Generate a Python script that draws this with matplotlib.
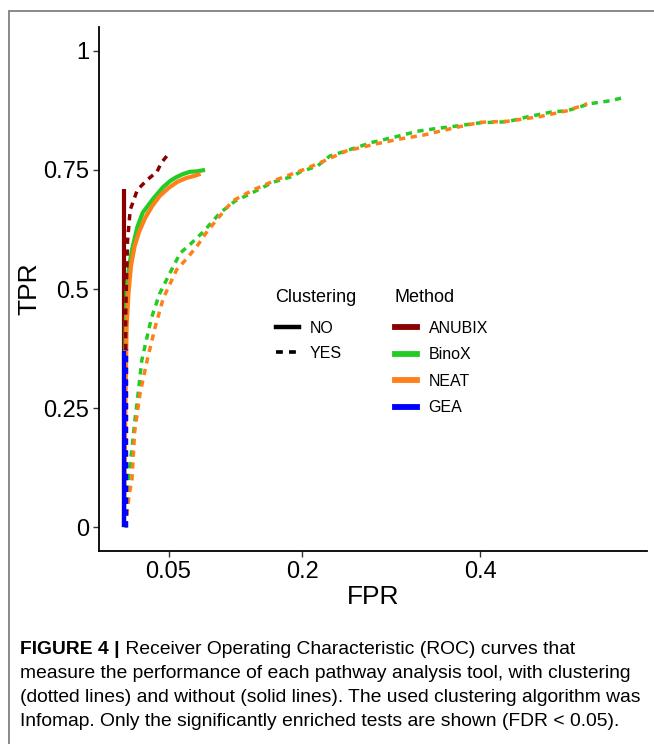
import matplotlib
matplotlib.use("Agg")
import matplotlib.pyplot as plt
from matplotlib.lines import Line2D
from matplotlib.patches import Rectangle

# ---------------- data ----------------
anubix_solid_fpr = [0.0, 0.0]
anubix_solid_tpr = [0.0, 0.71]

anubix_dash_fpr = [0.002, 0.002, 0.002, 0.004, 0.007, 0.015, 0.026, 0.037, 0.042, 0.048]
anubix_dash_tpr = [0.0, 0.30, 0.45, 0.60, 0.666, 0.708, 0.729, 0.746, 0.765, 0.779]

binox_solid_fpr = [0.0, 0.001, 0.002, 0.003, 0.006, 0.009, 0.015, 0.021, 0.027, 0.033,
                   0.044, 0.052, 0.059, 0.066, 0.074, 0.082, 0.091]
binox_solid_tpr = [0.0, 0.30, 0.42, 0.498, 0.55, 0.582, 0.63, 0.66, 0.675, 0.69,
                   0.714, 0.727, 0.735, 0.741, 0.746, 0.747, 0.750]

neat_solid_fpr = [0.0, 0.002, 0.003, 0.005, 0.008, 0.012, 0.017, 0.024, 0.032, 0.040,
                  0.050, 0.060, 0.070, 0.080, 0.086]
neat_solid_tpr = [0.0, 0.30, 0.42, 0.49, 0.55, 0.59, 0.62, 0.65, 0.675, 0.695,
                  0.712, 0.725, 0.733, 0.738, 0.742]

binox_dash_fpr = [0.002, 0.004, 0.006, 0.009, 0.012, 0.015, 0.020, 0.026, 0.031, 0.040,
                  0.052, 0.063, 0.075, 0.089, 0.108, 0.125, 0.145, 0.167, 0.190, 0.198,
                  0.217, 0.231, 0.254, 0.279, 0.306, 0.329, 0.347, 0.369, 0.400, 0.430,
                  0.452, 0.481, 0.497, 0.523, 0.545, 0.559]
binox_dash_tpr = [0.0, 0.06, 0.12, 0.165, 0.22, 0.265, 0.35, 0.40, 0.44, 0.49,
                  0.535, 0.575, 0.595, 0.62, 0.66, 0.685, 0.703, 0.724, 0.737, 0.746,
                  0.758, 0.779, 0.793, 0.808, 0.820, 0.831, 0.836, 0.841, 0.849, 0.851,
                  0.861, 0.872, 0.874, 0.889, 0.895, 0.901]

neat_dash_fpr = [0.002, 0.004, 0.006, 0.009, 0.012, 0.018, 0.026, 0.035, 0.044, 0.059,
                 0.071, 0.082, 0.093, 0.104, 0.122, 0.145, 0.172, 0.198, 0.220, 0.250,
                 0.284, 0.310, 0.336, 0.370, 0.400, 0.430, 0.467, 0.497, 0.520]
neat_dash_tpr = [0.0, 0.04, 0.07, 0.10, 0.20, 0.28, 0.35, 0.42, 0.48, 0.54,
                 0.565, 0.59, 0.62, 0.645, 0.685, 0.708, 0.73, 0.748, 0.765, 0.79,
                 0.805, 0.815, 0.823, 0.838, 0.850, 0.852, 0.862, 0.874, 0.889]

gea_solid_fpr = [0.0, 0.0]
gea_solid_tpr = [0.0, 0.37]
gea_dash_fpr = [0.002, 0.002]
gea_dash_tpr = [0.0, 0.375]

methods = ["ANUBIX", "BinoX", "NEAT", "GEA"]
method_colors = ["#8B0000", "#22CC22", "#FF7F1A", "#0000FF"]
clustering = ["NO", "YES"]

x_ticks = [0.05, 0.2, 0.4]
x_tick_labels = ["0.05", "0.2", "0.4"]
y_ticks = [0, 0.25, 0.5, 0.75, 1]
y_tick_labels = ["0", "0.25", "0.5", "0.75", "1"]

caption_bold = "FIGURE 4 |"
caption_lines = [
    " Receiver Operating Characteristic (ROC) curves that",
    "measure the performance of each pathway analysis tool, with clustering",
    "(dotted lines) and without (solid lines). The used clustering algorithm was",
    "Infomap. Only the significantly enriched tests are shown (FDR < 0.05).",
]

# ---------------- figure ----------------
plt.rcParams["font.family"] = ["Liberation Sans", "DejaVu Sans"]
W, H = 654, 744
fig = plt.figure(figsize=(W / 100, H / 100), dpi=100)

# outer frame
fig.patches.append(Rectangle((9 / W, -0.05), 1.2, (H - 11) / H + 0.05,
                             transform=fig.transFigure, fill=False,
                             edgecolor="#808080", linewidth=1.3))

ax_l, ax_r, ax_t, ax_b = 99, 647, 27, 551
ax = fig.add_axes([ax_l / W, (H - ax_b) / H, (ax_r - ax_l) / W, (ax_b - ax_t) / H])

lw_solid = 3.0
lw_dash = 2.5
dash = (0, (1.8, 1.6))

series = [
    (anubix_solid_fpr, anubix_solid_tpr, 0, "-"),
    (binox_solid_fpr, binox_solid_tpr, 1, "-"),
    (neat_solid_fpr, neat_solid_tpr, 2, "-"),
    (anubix_dash_fpr, anubix_dash_tpr, 0, "--"),
    (binox_dash_fpr, binox_dash_tpr, 1, "--"),
    (neat_dash_fpr, neat_dash_tpr, 2, "--"),
    (gea_solid_fpr, gea_solid_tpr, 3, "-"),
    (gea_dash_fpr, gea_dash_tpr, 3, "--"),
]
for xs, ys, mi, ls in series:
    if ls == "-":
        ax.plot(xs, ys, color=method_colors[mi], lw=lw_solid, solid_capstyle="butt")
    else:
        ax.plot(xs, ys, color=method_colors[mi], lw=lw_dash, linestyle=dash,
                dash_capstyle="butt")

ax.set_xlim(-0.028, 0.587)
ax.set_ylim(-0.05, 1.05)
ax.set_xticks(x_ticks)
ax.set_xticklabels(x_tick_labels)
ax.set_yticks(y_ticks)
ax.set_yticklabels(y_tick_labels)
for s in ["top", "right"]:
    ax.spines[s].set_visible(False)
for s in ["left", "bottom"]:
    ax.spines[s].set_linewidth(1.3)
    ax.spines[s].set_color("black")
ax.tick_params(axis="both", length=4, width=1.0, color="#333333",
               labelsize=17, labelcolor="black", pad=3)
ax.set_xlabel("FPR", fontsize=19, labelpad=2)
ax.set_ylabel("TPR", fontsize=19, labelpad=1.5)

# legends (titles drawn as separate texts for exact spacing)
clus_handles = [Line2D([], [], color="black", lw=3.2, linestyle="-"),
                Line2D([], [], color="black", lw=2.6, linestyle=(0, (1.9, 1.7)))]
leg1 = ax.legend(clus_handles, clustering,
                 loc="upper left", bbox_to_anchor=(268 / W, (H - 313) / H),
                 bbox_transform=fig.transFigure, frameon=False, fontsize=11.5,
                 handlelength=1.45, handletextpad=0.65,
                 labelspacing=0.6, borderpad=0)
ax.add_artist(leg1)
meth_handles = [Line2D([], [], color=c, lw=4.2) for c in method_colors]
leg2 = ax.legend(meth_handles, methods,
                 loc="upper left", bbox_to_anchor=(387 / W, (H - 313) / H),
                 bbox_transform=fig.transFigure, frameon=False, fontsize=11.5,
                 handlelength=1.35, handletextpad=0.75,
                 labelspacing=0.72, borderpad=0)
fig.text(275 / W, 1 - 298 / H, "Clustering", fontsize=13, va="center", ha="left")
fig.text(395 / W, 1 - 298 / H, "Method", fontsize=13, va="center", ha="left")

# caption
fig.canvas.draw()
renderer = fig.canvas.get_renderer()
widths = []
for t in caption_lines[1:]:
    probe = fig.text(0, 0, t, fontsize=12)
    widths.append(probe.get_window_extent(renderer).width)
    probe.remove()
cap_size = 12 * 624 / max(widths)

x0 = 20 / W
line_y = [649, 673, 697, 721]
tb = fig.text(x0, 1 - line_y[0] / H, caption_bold, fontsize=cap_size,
              fontweight="bold", va="center")
bb = tb.get_window_extent(renderer)
fig.text(bb.x1 / W, 1 - line_y[0] / H, caption_lines[0], fontsize=cap_size, va="center")
for txt, yy in zip(caption_lines[1:], line_y[1:]):
    fig.text(x0, 1 - yy / H, txt, fontsize=cap_size, va="center")

fig.savefig("out.png", dpi=100)
